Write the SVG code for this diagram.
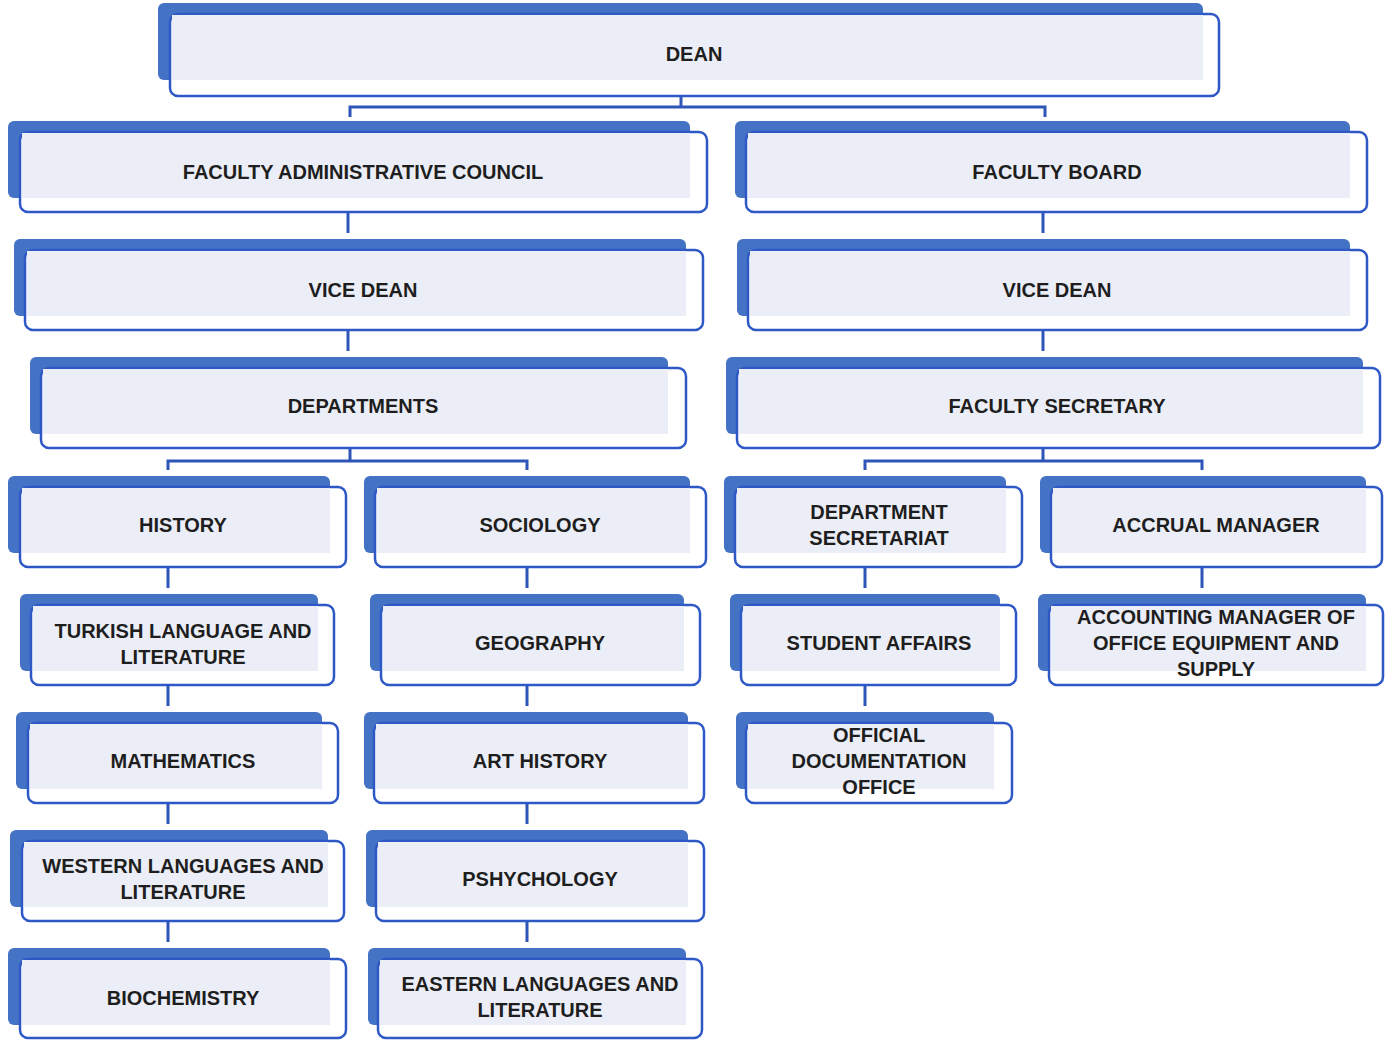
<svg xmlns="http://www.w3.org/2000/svg" width="1389" height="1041" viewBox="0 0 1389 1041">
<style>
.bk{fill:#4472C4}
.fr{fill:#FFFFFF;stroke:#2E58C6;stroke-width:2.5}
.fl{fill:#ECEEF7}
.t{font-family:"Liberation Sans",Arial,sans-serif;font-weight:bold;font-size:20px;fill:#1E1E1E;text-anchor:middle;dominant-baseline:central}
.c{stroke:#2E55B8;stroke-width:3;fill:none}
</style>
<rect width="1389" height="1041" fill="#FFFFFF"/>
<g id="connectors">
<path class="c" d="M681 96V107M350 117V107H1045V117"/>
<path class="c" d="M348 212V233M1043 212V233M348 330V351M1043 330V351"/>
<path class="c" d="M350 448V461M168 470V461H527V470M1043 448V461M865 470V461H1202V470"/>
<path class="c" d="M168 567V588M168 685V706M168 803V824M168 921V942"/>
<path class="c" d="M527 567V588M527 685V706M527 803V824M527 921V942"/>
<path class="c" d="M865 567V588M865 685V706M1202 567V588"/>
</g>
<g id="dean"><rect class="bk" x="158" y="3" width="1045" height="77" rx="6"/><rect class="fr" x="170" y="14" width="1049" height="82" rx="8"/><rect class="fl" x="172" y="15" width="1031" height="65"/><text class="t" x="694" y="54">DEAN</text></g>
<g id="fac-admin"><rect class="bk" x="8" y="121" width="682" height="77" rx="6"/><rect class="fr" x="20" y="132" width="687" height="80" rx="8"/><rect class="fl" x="22" y="133" width="668" height="65"/><text class="t" x="363" y="172">FACULTY ADMINISTRATIVE COUNCIL</text></g>
<g id="fac-board"><rect class="bk" x="735" y="121" width="615" height="77" rx="6"/><rect class="fr" x="746" y="132" width="621" height="80" rx="8"/><rect class="fl" x="748" y="133" width="602" height="65"/><text class="t" x="1057" y="172">FACULTY BOARD</text></g>
<g id="vice-dean-l"><rect class="bk" x="14" y="239" width="672" height="77" rx="6"/><rect class="fr" x="25" y="250" width="678" height="80" rx="8"/><rect class="fl" x="27" y="251" width="659" height="65"/><text class="t" x="363" y="290">VICE DEAN</text></g>
<g id="vice-dean-r"><rect class="bk" x="737" y="239" width="613" height="77" rx="6"/><rect class="fr" x="748" y="250" width="619" height="80" rx="8"/><rect class="fl" x="750" y="251" width="600" height="65"/><text class="t" x="1057" y="290">VICE DEAN</text></g>
<g id="departments"><rect class="bk" x="30" y="357" width="638" height="77" rx="6"/><rect class="fr" x="41" y="368" width="645" height="80" rx="8"/><rect class="fl" x="43" y="369" width="625" height="65"/><text class="t" x="363" y="406">DEPARTMENTS</text></g>
<g id="fac-secretary"><rect class="bk" x="726" y="357" width="637" height="77" rx="6"/><rect class="fr" x="737" y="368" width="643" height="80" rx="8"/><rect class="fl" x="739" y="369" width="624" height="65"/><text class="t" x="1057" y="406">FACULTY SECRETARY</text></g>
<g id="history"><rect class="bk" x="8" y="476" width="322" height="77" rx="6"/><rect class="fr" x="20" y="487" width="326" height="80" rx="8"/><rect class="fl" x="22" y="488" width="308" height="65"/><text class="t" x="183" y="525">HISTORY</text></g>
<g id="sociology"><rect class="bk" x="364" y="476" width="326" height="77" rx="6"/><rect class="fr" x="375" y="487" width="331" height="80" rx="8"/><rect class="fl" x="377" y="488" width="313" height="65"/><text class="t" x="540" y="525">SOCIOLOGY</text></g>
<g id="dept-secretariat"><rect class="bk" x="724" y="476" width="282" height="77" rx="6"/><rect class="fr" x="735" y="487" width="287" height="80" rx="8"/><rect class="fl" x="737" y="488" width="269" height="65"/><text class="t" x="879" y="512">DEPARTMENT</text><text class="t" x="879" y="538">SECRETARIAT</text></g>
<g id="accrual"><rect class="bk" x="1040" y="476" width="326" height="77" rx="6"/><rect class="fr" x="1051" y="487" width="331" height="80" rx="8"/><rect class="fl" x="1053" y="488" width="313" height="65"/><text class="t" x="1216" y="525">ACCRUAL MANAGER</text></g>
<g id="turkish"><rect class="bk" x="20" y="594" width="298" height="77" rx="6"/><rect class="fr" x="31" y="605" width="303" height="80" rx="8"/><rect class="fl" x="33" y="606" width="285" height="65"/><text class="t" x="183" y="631">TURKISH LANGUAGE AND</text><text class="t" x="183" y="657">LITERATURE</text></g>
<g id="geography"><rect class="bk" x="370" y="594" width="314" height="77" rx="6"/><rect class="fr" x="381" y="605" width="319" height="80" rx="8"/><rect class="fl" x="383" y="606" width="301" height="65"/><text class="t" x="540" y="643">GEOGRAPHY</text></g>
<g id="student-affairs"><rect class="bk" x="730" y="594" width="270" height="77" rx="6"/><rect class="fr" x="741" y="605" width="275" height="80" rx="8"/><rect class="fl" x="743" y="606" width="257" height="65"/><text class="t" x="879" y="643">STUDENT AFFAIRS</text></g>
<g id="accounting"><rect class="bk" x="1038" y="594" width="328" height="77" rx="6"/><rect class="fr" x="1049" y="605" width="334" height="80" rx="8"/><rect class="fl" x="1051" y="606" width="315" height="65"/><text class="t" x="1216" y="617">ACCOUNTING MANAGER OF</text><text class="t" x="1216" y="643">OFFICE EQUIPMENT AND</text><text class="t" x="1216" y="669">SUPPLY</text></g>
<g id="mathematics"><rect class="bk" x="16" y="712" width="306" height="77" rx="6"/><rect class="fr" x="28" y="723" width="310" height="80" rx="8"/><rect class="fl" x="30" y="724" width="292" height="65"/><text class="t" x="183" y="761">MATHEMATICS</text></g>
<g id="art-history"><rect class="bk" x="364" y="712" width="324" height="77" rx="6"/><rect class="fr" x="374" y="723" width="330" height="80" rx="8"/><rect class="fl" x="376" y="724" width="312" height="65"/><text class="t" x="540" y="761">ART HISTORY</text></g>
<g id="official-doc"><rect class="bk" x="736" y="712" width="258" height="77" rx="6"/><rect class="fr" x="746" y="723" width="266" height="80" rx="8"/><rect class="fl" x="748" y="724" width="246" height="65"/><text class="t" x="879" y="735">OFFICIAL</text><text class="t" x="879" y="761">DOCUMENTATION</text><text class="t" x="879" y="787">OFFICE</text></g>
<g id="western"><rect class="bk" x="10" y="830" width="318" height="77" rx="6"/><rect class="fr" x="22" y="841" width="322" height="80" rx="8"/><rect class="fl" x="24" y="842" width="304" height="65"/><text class="t" x="183" y="866">WESTERN LANGUAGES AND</text><text class="t" x="183" y="892">LITERATURE</text></g>
<g id="psychology"><rect class="bk" x="366" y="830" width="322" height="77" rx="6"/><rect class="fr" x="376" y="841" width="328" height="80" rx="8"/><rect class="fl" x="378" y="842" width="310" height="65"/><text class="t" x="540" y="879">PSHYCHOLOGY</text></g>
<g id="biochemistry"><rect class="bk" x="8" y="948" width="322" height="77" rx="6"/><rect class="fr" x="20" y="959" width="326" height="79" rx="8"/><rect class="fl" x="22" y="960" width="308" height="65"/><text class="t" x="183" y="998">BIOCHEMISTRY</text></g>
<g id="eastern"><rect class="bk" x="368" y="948" width="318" height="77" rx="6"/><rect class="fr" x="378" y="959" width="324" height="79" rx="8"/><rect class="fl" x="380" y="960" width="306" height="65"/><text class="t" x="540" y="984">EASTERN LANGUAGES AND</text><text class="t" x="540" y="1010">LITERATURE</text></g>
</svg>
